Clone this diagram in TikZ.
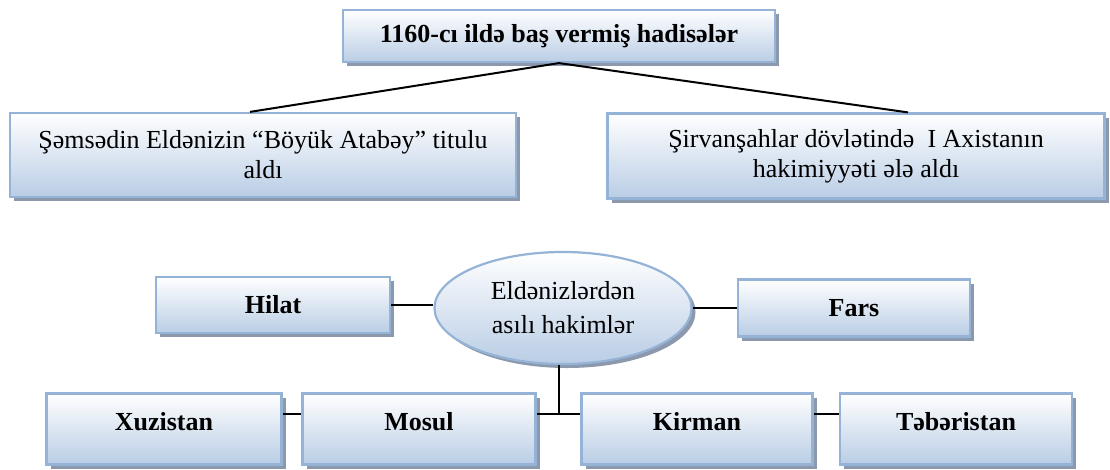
\documentclass[tikz,border=0pt]{standalone}
\usepackage{fontspec}
\setmainfont{Liberation Serif}
\usetikzlibrary{positioning,calc,shadows,shapes.geometric}
\definecolor{boxline}{RGB}{149,179,215}
\definecolor{boxfill}{RGB}{185,205,229}
\definecolor{boxshade}{RGB}{140,152,172}

\begin{document}
\begin{tikzpicture}[x=1pt,y=-1pt,line width=2pt,
  box/.style={rectangle,draw=boxline,line width=2.2pt,top color=white,bottom color=boxfill,
    drop shadow={shadow xshift=4pt,shadow yshift=-4pt,fill=boxshade,opacity=1},
    align=center,inner sep=2pt,font=\fontsize{26}{30}\selectfont},
  oval/.style={ellipse,draw=boxline,line width=2.2pt,top color=white,bottom color=boxfill,
    drop shadow={shadow xshift=4pt,shadow yshift=-4pt,fill=boxshade,opacity=1},
    align=center,inner sep=0pt,font=\fontsize{26}{34}\selectfont},
  land/.style={box,font=\bfseries\fontsize{26}{30}\selectfont,minimum width=232pt,minimum height=58pt}]
  \useasboundingbox (0,0) rectangle (1110,469);
  \node[box,minimum width=432pt,minimum height=52pt,font=\bfseries\fontsize{26}{30}\selectfont] (yr) at (559,36) {1160-cı ildə baş vermiş hadisələr};
  \node[box,minimum width=506pt,minimum height=84pt] (ev1) at (263,155) {Şəmsədin Eldənizin “Böyük Atabəy” titulu\\aldı};
  \node[box,minimum width=497pt,minimum height=85pt] (ev2) at (856,156) {Şirvanşahlar dövlətində~ I Axistanın\\hakimiyyəti ələ aldı};
  \node[oval,minimum width=257pt,minimum height=112pt] (el) at (563,308) {Eldənizlərdən\\asılı hakimlər};
  \node[land,minimum width=234pt,minimum height=56pt] (hil) at (273,305) {Hilat};
  \node[land,minimum height=57pt] (far) at (854,308) {Fars};
  \node[land,minimum width=235pt,minimum height=71pt,text depth=16pt] (xuz) at (164,429) {Xuzistan};
  \node[land,minimum width=233pt,minimum height=71pt,text depth=16pt] (mos) at (419,429) {Mosul};
  \node[land,minimum width=231pt,minimum height=71pt,text depth=16pt] (kir) at (697,429) {Kirman};
  \node[land,minimum width=232pt,minimum height=71pt,text depth=16pt] (tab) at (956,429) {Təbəristan};
  \coordinate (jn) at (559,414);
  \draw (yr.south) -- ([xshift=-13pt]ev1.north);
  \draw (yr.south) -- ([xshift=52pt]ev2.north);
  \draw (hil.east) -- (hil.east -| el.west);
  \draw (el.east) -- (far.west |- el.east);
  \draw (el.south -| jn) -- (jn);
  \draw (xuz.east |- jn) -- (mos.west |- jn);
  \draw (mos.east |- jn) -- (kir.west |- jn);
  \draw (kir.east |- jn) -- (tab.west |- jn);
\end{tikzpicture}
\end{document}
